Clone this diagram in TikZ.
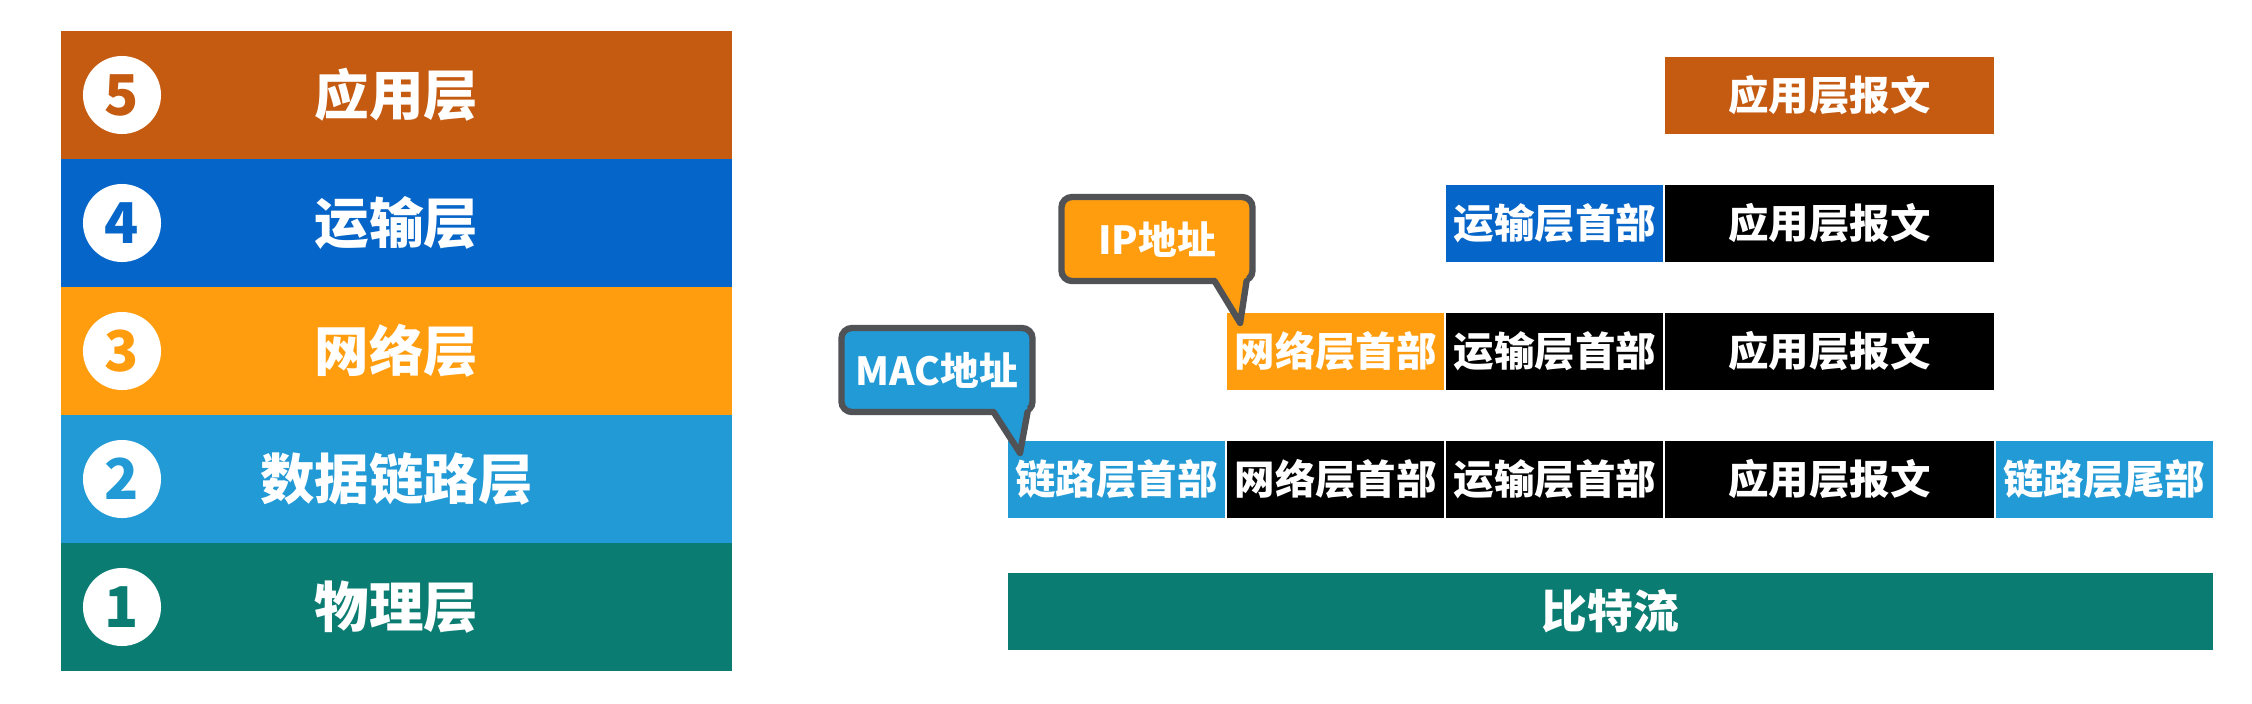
\documentclass[tikz,border=0pt]{standalone}
\usepackage{fontspec}
\newfontfamily\cjk{Noto Sans CJK SC}
\usetikzlibrary{positioning}
\definecolor{appbrown}{HTML}{C55A11}
\definecolor{transblue}{HTML}{0565C8}
\definecolor{netorange}{HTML}{FF9D0F}
\definecolor{linkblue}{HTML}{229AD6}
\definecolor{phyteal}{HTML}{0B7C72}
\definecolor{bubblegray}{HTML}{505256}

\begin{document}
\begin{tikzpicture}[x=0.01cm, y=-0.01cm,
  every node/.style={inner sep=0, outer sep=0, text=white, font=\cjk\bfseries},
  layer/.style={minimum width=6.71cm, minimum height=1.28cm, font=\cjk\bfseries\fontsize{15.5}{16}\selectfont},
  badge/.style={circle, fill=white, minimum size=0.78cm, font=\cjk\bfseries\fontsize{16}{16}\selectfont},
  seg/.style={minimum height=0.77cm, font=\cjk\bfseries\fontsize{11.5}{12}\selectfont},
  hdr/.style={seg, minimum width=2.17cm},
  msg/.style={seg, minimum width=3.28cm},
  bubble/.style={draw=bubblegray, line width=1.8pt, rounded corners=3pt, minimum width=1.91cm, minimum height=0.84cm, font=\cjk\bfseries\fontsize{11}{12}\selectfont},
  tail/.style={draw=bubblegray, line width=1.8pt, line join=round, line cap=round}]
  \useasboundingbox (0,0) rectangle (2252,703);
  % five layers on the left
  \foreach \n/\name/\col [count=\i] in {5/应用层/appbrown, 4/运输层/transblue, 3/网络层/netorange, 2/数据链路层/linkblue, 1/物理层/phyteal} {
    \node[layer, fill=\col] (layer\n) at (396.5, {31+128*(\i-1)+64}) {\name};
    \node[badge, text=\col] (num\n) at (122, {31+128*(\i-1)+64}) {\n};
  }
  % frame
  \node[hdr, fill=linkblue, anchor=north west] (dlh) at (1008,441) {链路层首部};
  \node[hdr, fill=black, right=0.02cm of dlh] (dnh) {网络层首部};
  \node[hdr, fill=black, right=0.02cm of dnh] (dth) {运输层首部};
  \node[msg, fill=black, right=0.02cm of dth] (dmsg) {应用层报文};
  \node[hdr, fill=linkblue, right=0.02cm of dmsg] (dtail) {链路层尾部};
  % packet
  \node[hdr, fill=netorange, above=0.51cm of dnh] (cnh) {网络层首部};
  \node[hdr, fill=black, right=0.02cm of cnh] (cth) {运输层首部};
  \node[msg, fill=black, right=0.02cm of cth] (cmsg) {应用层报文};
  % segment
  \node[hdr, fill=transblue, above=0.51cm of cth] (bth) {运输层首部};
  \node[msg, fill=black, right=0.02cm of bth] (bmsg) {应用层报文};
  % message
  \node[msg, fill=appbrown, above=0.51cm of bmsg] (amsg) {应用层报文};
  % bits
  \node[seg, fill=phyteal, minimum width=12.04cm, anchor=north west, font=\cjk\bfseries\fontsize{13}{14}\selectfont] (bits) at ([yshift=-0.55cm]dlh.south west) {比特流};
  % address bubbles
  \coordinate (iptip) at ([shift={(0.13cm,-0.10cm)}]cnh.north west);
  \coordinate (mactip) at ([shift={(0.12cm,-0.12cm)}]dlh.north west);
  \node[bubble, fill=netorange] (ip) at (1157,239) {IP地址};
  \fill[netorange] ([shift={(-0.38cm,0.05cm)}]ip.south east) -- (iptip) -- ([shift={(-0.06cm,0.05cm)}]ip.south east) -- cycle;
  \draw[tail] ([xshift=-0.38cm]ip.south east) -- (iptip) -- ([xshift=-0.06cm]ip.south east);
  \node[bubble, fill=linkblue] (mac) at (937,370) {MAC地址};
  \fill[linkblue] ([shift={(-0.39cm,0.05cm)}]mac.south east) -- (mactip) -- ([shift={(-0.05cm,0.05cm)}]mac.south east) -- cycle;
  \draw[tail] ([xshift=-0.39cm]mac.south east) -- (mactip) -- ([xshift=-0.05cm]mac.south east);
\end{tikzpicture}
\end{document}
